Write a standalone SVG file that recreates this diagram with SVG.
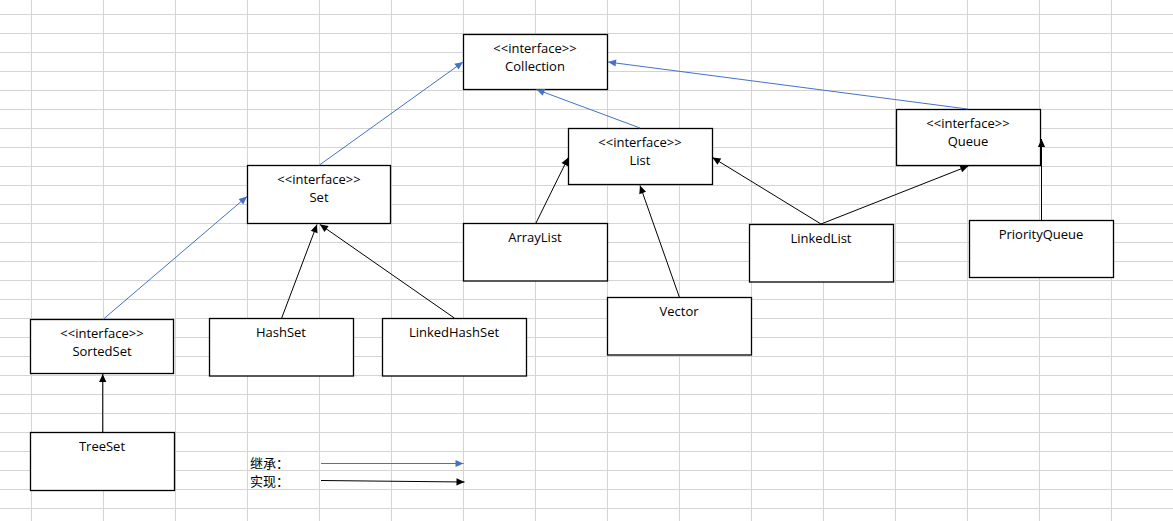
<svg xmlns="http://www.w3.org/2000/svg" width="1173" height="521" viewBox="0 0 1173 521">
  <defs>
    <style>
      .grid line { stroke: #d4d4d4; stroke-width: 1; }
      .box rect { fill: #ffffff; stroke: #000000; stroke-width: 1.3; }
      .box text, .legend text { font-family: "Open Sans", "Noto Sans", "Liberation Sans", sans-serif; font-size: 13px; fill: #000000; text-anchor: middle; }
      .legend text { text-anchor: start; font-family: "Noto Sans CJK SC", "Noto Sans", sans-serif; }
      .inherit { stroke: #4472c4; stroke-width: 1; fill: none; marker-end: url(#arrow-blue); }
      .impl { stroke: #000000; stroke-width: 1; fill: none; marker-end: url(#arrow-black); }
    </style>
    <marker id="arrow-blue" markerUnits="userSpaceOnUse" markerWidth="10" markerHeight="10" viewBox="0 0 10 10" refX="9" refY="5" orient="auto">
      <path d="M1,1.4 L9,5 L1,8.6 Z" fill="#4472c4"/>
    </marker>
    <marker id="arrow-black" markerUnits="userSpaceOnUse" markerWidth="10" markerHeight="10" viewBox="0 0 10 10" refX="9" refY="5" orient="auto">
      <path d="M1,1.4 L9,5 L1,8.6 Z" fill="#000000"/>
    </marker>
  </defs>

  <rect x="0" y="0" width="1173" height="521" fill="#ffffff"/>

  <!-- spreadsheet grid -->
  <g class="grid">
    <line x1="31.5" y1="0" x2="31.5" y2="521"/>
    <line x1="103.5" y1="0" x2="103.5" y2="521"/>
    <line x1="175.5" y1="0" x2="175.5" y2="521"/>
    <line x1="247.5" y1="0" x2="247.5" y2="521"/>
    <line x1="319.5" y1="0" x2="319.5" y2="521"/>
    <line x1="391.5" y1="0" x2="391.5" y2="521"/>
    <line x1="463.5" y1="0" x2="463.5" y2="521"/>
    <line x1="535.5" y1="0" x2="535.5" y2="521"/>
    <line x1="607.5" y1="0" x2="607.5" y2="521"/>
    <line x1="679.5" y1="0" x2="679.5" y2="521"/>
    <line x1="751.5" y1="0" x2="751.5" y2="521"/>
    <line x1="823.5" y1="0" x2="823.5" y2="521"/>
    <line x1="895.5" y1="0" x2="895.5" y2="521"/>
    <line x1="967.5" y1="0" x2="967.5" y2="521"/>
    <line x1="1039.5" y1="0" x2="1039.5" y2="521"/>
    <line x1="1111.5" y1="0" x2="1111.5" y2="521"/>
    <line x1="0" y1="14.5" x2="1173" y2="14.5"/>
    <line x1="0" y1="33.5" x2="1173" y2="33.5"/>
    <line x1="0" y1="52.5" x2="1173" y2="52.5"/>
    <line x1="0" y1="71.5" x2="1173" y2="71.5"/>
    <line x1="0" y1="90.5" x2="1173" y2="90.5"/>
    <line x1="0" y1="109.5" x2="1173" y2="109.5"/>
    <line x1="0" y1="128.5" x2="1173" y2="128.5"/>
    <line x1="0" y1="147.5" x2="1173" y2="147.5"/>
    <line x1="0" y1="166.5" x2="1173" y2="166.5"/>
    <line x1="0" y1="185.5" x2="1173" y2="185.5"/>
    <line x1="0" y1="204.5" x2="1173" y2="204.5"/>
    <line x1="0" y1="223.5" x2="1173" y2="223.5"/>
    <line x1="0" y1="242.5" x2="1173" y2="242.5"/>
    <line x1="0" y1="261.5" x2="1173" y2="261.5"/>
    <line x1="0" y1="280.5" x2="1173" y2="280.5"/>
    <line x1="0" y1="299.5" x2="1173" y2="299.5"/>
    <line x1="0" y1="318.5" x2="1173" y2="318.5"/>
    <line x1="0" y1="337.5" x2="1173" y2="337.5"/>
    <line x1="0" y1="356.5" x2="1173" y2="356.5"/>
    <line x1="0" y1="375.5" x2="1173" y2="375.5"/>
    <line x1="0" y1="394.5" x2="1173" y2="394.5"/>
    <line x1="0" y1="413.5" x2="1173" y2="413.5"/>
    <line x1="0" y1="432.5" x2="1173" y2="432.5"/>
    <line x1="0" y1="451.5" x2="1173" y2="451.5"/>
    <line x1="0" y1="470.5" x2="1173" y2="470.5"/>
    <line x1="0" y1="489.5" x2="1173" y2="489.5"/>
    <line x1="0" y1="508.5" x2="1173" y2="508.5"/>
  </g>

  <!-- class / interface boxes -->
  <g id="collection" class="box">
    <rect x="463.5" y="34.5" width="144" height="55"/>
    <text x="535" y="53">&lt;&lt;interface&gt;&gt;</text>
    <text x="535" y="71">Collection</text>
  </g>
  <g id="queue" class="box">
    <rect x="896.5" y="109.5" width="144" height="56"/>
    <text x="968" y="127.5">&lt;&lt;interface&gt;&gt;</text>
    <text x="968" y="146">Queue</text>
  </g>
  <g id="set" class="box">
    <rect x="247.5" y="165.5" width="143" height="58"/>
    <text x="319" y="184">&lt;&lt;interface&gt;&gt;</text>
    <text x="319" y="201.5">Set</text>
  </g>
  <g id="list" class="box">
    <rect x="568.5" y="128.5" width="144" height="56"/>
    <text x="640" y="146.5">&lt;&lt;interface&gt;&gt;</text>
    <text x="640" y="165">List</text>
  </g>
  <g id="sortedset" class="box">
    <rect x="30.5" y="319.5" width="143" height="54"/>
    <text x="102" y="337.5">&lt;&lt;interface&gt;&gt;</text>
    <text x="102" y="355.5">SortedSet</text>
  </g>
  <g id="treeset" class="box">
    <rect x="30.5" y="432.5" width="144" height="58"/>
    <text x="102" y="450.5">TreeSet</text>
  </g>
  <g id="hashset" class="box">
    <rect x="209.5" y="318.5" width="144" height="57.5"/>
    <text x="281" y="336.5">HashSet</text>
  </g>
  <g id="linkedhashset" class="box">
    <rect x="382.5" y="318.5" width="144" height="57.5"/>
    <text x="454" y="336.5">LinkedHashSet</text>
  </g>
  <g id="arraylist" class="box">
    <rect x="463.5" y="223.5" width="144" height="57.5"/>
    <text x="535" y="241.5">ArrayList</text>
  </g>
  <g id="vector" class="box">
    <rect x="607.5" y="297.5" width="144" height="57.5"/>
    <text x="679" y="316">Vector</text>
  </g>
  <g id="linkedlist" class="box">
    <rect x="749.5" y="224.5" width="144" height="57.5"/>
    <text x="821" y="242.5">LinkedList</text>
  </g>
  <g id="priorityqueue" class="box">
    <rect x="969.5" y="220.5" width="144" height="57"/>
    <text x="1041" y="238.5">PriorityQueue</text>
  </g>

  <!-- connectors: blue = extends, black = implements -->
  <g id="connectors">
    <line class="inherit" x1="319.5" y1="165" x2="463" y2="62"/>
    <line class="inherit" x1="640" y1="128" x2="536.5" y2="89.5"/>
    <line class="inherit" x1="967.5" y1="109" x2="608" y2="62"/>
    <line class="inherit" x1="103.5" y1="319" x2="247" y2="196.5"/>

    <line class="impl" x1="102.7" y1="432" x2="102.7" y2="374"/>
    <line class="impl" x1="281.7" y1="318" x2="317" y2="224.5"/>
    <line class="impl" x1="454.3" y1="318" x2="320" y2="224.5"/>
    <line class="impl" x1="536" y1="223" x2="568.3" y2="157.5"/>
    <line class="impl" x1="679.3" y1="297" x2="640" y2="185.5"/>
    <line class="impl" x1="821" y1="224" x2="712.5" y2="157.5"/>
    <line class="impl" x1="821" y1="224" x2="968.3" y2="166"/>
    <line class="impl" x1="1041.5" y1="220" x2="1041.5" y2="139"/>
  </g>

  <!-- legend -->
  <g id="legend" class="legend">
    <text x="250" y="467.5">继承：</text>
    <text x="250" y="486">实现：</text>
    <line class="inherit" x1="321" y1="463.5" x2="463.5" y2="463.5"/>
    <line class="impl" x1="321" y1="480.5" x2="464.5" y2="482"/>
  </g>
</svg>
